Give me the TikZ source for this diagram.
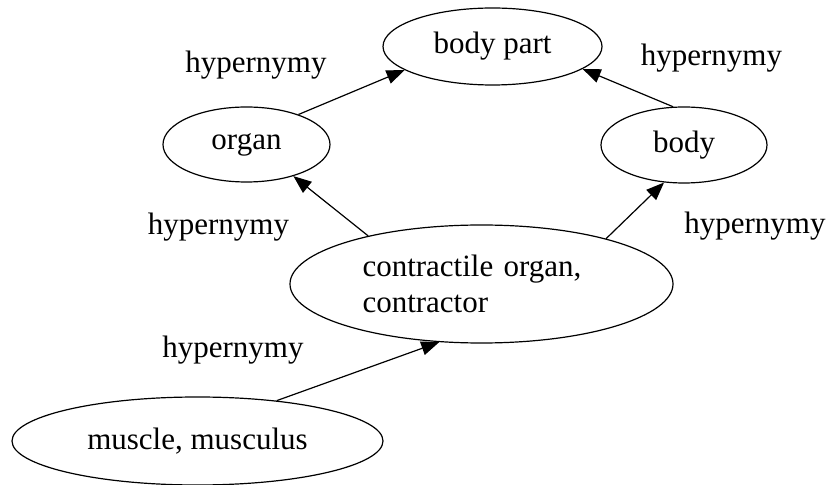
\documentclass[tikz,border=0pt]{standalone}
\usepackage{fontspec}
\setmainfont{Liberation Serif}
\usepackage{tikz}
\usetikzlibrary{arrows.meta, shapes.geometric}

\begin{document}
\begin{tikzpicture}[
  x=1pt, y=1pt,
  font=\fontsize{31}{36}\selectfont,
  concept/.style={ellipse, draw=black, line width=1.2pt, inner sep=0pt},
  rel/.style={anchor=base, inner sep=0pt},
  arrow/.style={-{Triangle[length=18pt, width=14pt]}, line width=1.2pt}
]
\useasboundingbox (0,0) rectangle (828,485);

\node[concept, minimum width=219pt, minimum height=77pt] (bodypart) at (492.5,438.5) {body part};
\node[concept, minimum width=167pt, minimum height=75pt] (organ) at (246.5,340.5) {organ};
\node[concept, minimum width=166pt, minimum height=76pt] (body) at (684,340) {body};
\node[concept, minimum width=383pt, minimum height=118pt, text width=238pt, align=left] (contractile) at (481.5,201) {contractile organ,\\contractor};
\node[concept, minimum width=371pt, minimum height=88pt] (muscle) at (197.5,44) {muscle, musculus};

\node[rel] (hypA) at (256,412) {hypernymy};
\node[rel] (hypB) at (711.5,419) {hypernymy};
\node[rel] (hypC) at (218.5,250) {hypernymy};
\node[rel] (hypD) at (755,251) {hypernymy};
\node[rel] (hypE) at (233,127) {hypernymy};

\draw[arrow] (organ.30) -- (bodypart.195);
\draw[arrow] (body.106) -- (bodypart.346);
\draw[arrow] (contractile.157) -- (organ.326);
\draw[arrow] (contractile.20) -- (body.242);
\draw[arrow] (muscle.27) -- (contractile.234);
\end{tikzpicture}
\end{document}
